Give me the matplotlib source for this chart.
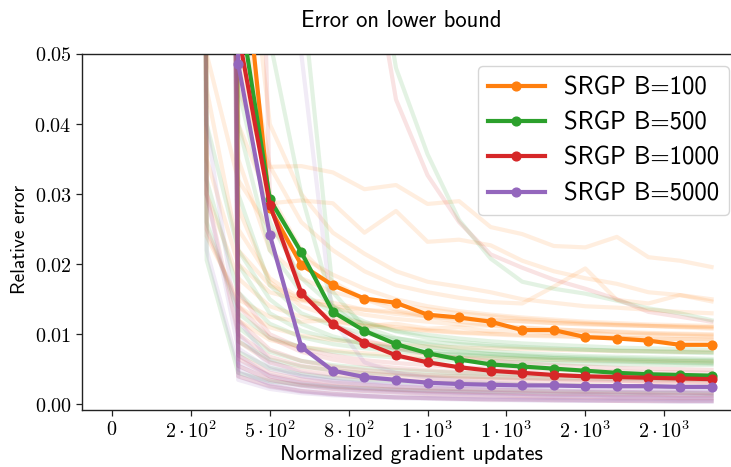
import matplotlib
matplotlib.use("Agg")
import matplotlib.pyplot as plt

plt.rcParams["mathtext.fontset"] = "cm"
plt.rcParams["axes.unicode_minus"] = False
SANS = ["cmss10", "DejaVu Sans"]

# ---------------------------------------------------------------- data
steps = [300, 400, 500, 600, 700, 800, 900, 1000, 1100, 1200,
         1300, 1400, 1500, 1600, 1700, 1800, 1900]

labels = ["SRGP B=100", "SRGP B=500", "SRGP B=1000", "SRGP B=5000"]
colors = ["#ff7f0e", "#2ca02c", "#d62728", "#9467bd"]

err_b100 = [0.60, 0.0720, 0.0280, 0.0199, 0.0170, 0.0151, 0.0145, 0.0128,
            0.0124, 0.0118, 0.0106, 0.0106, 0.0096, 0.0094, 0.0091, 0.0085, 0.0085]
err_b500 = [0.60, 0.0580, 0.0293, 0.0217, 0.0132, 0.0105, 0.0086, 0.0073,
            0.0064, 0.0057, 0.0054, 0.0051, 0.0048, 0.0045, 0.0043, 0.0042, 0.0041]
err_b1000 = [0.60, 0.0530, 0.0285, 0.0159, 0.0114, 0.0088, 0.0070, 0.0060,
             0.0053, 0.0048, 0.0045, 0.0042, 0.0040, 0.0039, 0.0038, 0.0037, 0.0036]
err_b5000 = [0.60, 0.0486, 0.0242, 0.0082, 0.0048, 0.0039, 0.0035, 0.0031,
             0.0029, 0.0028, 0.0027, 0.0027, 0.0026, 0.0026, 0.0026, 0.0025, 0.0025]
main_runs = [err_b100, err_b500, err_b1000, err_b5000]

# individual runs drawn faintly behind the summary curves (x = 200 ... 1900)
run_steps = [200] + steps

runs_b100 = [
    [0.9, 0.20, 0.045, 0.0339, 0.0340, 0.0331, 0.0307, 0.0313, 0.0286, 0.0290, 0.0253, 0.0243, 0.0226, 0.0224, 0.0239, 0.0210, 0.0205, 0.0196],
    [0.9, 0.15, 0.040, 0.0287, 0.0291, 0.0287, 0.0245, 0.0276, 0.0232, 0.0235, 0.0227, 0.0205, 0.0190, 0.0180, 0.0172, 0.0160, 0.0156, 0.0150],
    [0.9, 0.80, 0.060, 0.0340, 0.0260, 0.0220, 0.0190, 0.0170, 0.0160, 0.0152, 0.0146, 0.0144, 0.0168, 0.0194, 0.0149, 0.0144, 0.0156, 0.0147],
    [0.9, 0.90, 0.035, 0.0220, 0.0180, 0.0160, 0.0150, 0.0142, 0.0136, 0.0130, 0.0126, 0.0122, 0.0119, 0.0116, 0.0114, 0.0112, 0.0110, 0.0108],
    [0.9, 0.030, 0.018, 0.0140, 0.0125, 0.0118, 0.0112, 0.0108, 0.0105, 0.0102, 0.0100, 0.0098, 0.0097, 0.0096, 0.0095, 0.0094, 0.0093, 0.0092],
    [0.9, 0.70, 0.014, 0.0110, 0.0098, 0.0092, 0.0088, 0.0085, 0.0083, 0.0081, 0.0080, 0.0079, 0.0078, 0.0077, 0.0076, 0.0076, 0.0075, 0.0075],
    [0.9, 0.90, 0.080, 0.0400, 0.0300, 0.0245, 0.0215, 0.0190, 0.0175, 0.0168, 0.0160, 0.0150, 0.0145, 0.0140, 0.0138, 0.0135, 0.0132, 0.0130],
    [0.9, 0.024, 0.015, 0.0125, 0.0118, 0.0120, 0.0112, 0.0115, 0.0108, 0.0110, 0.0104, 0.0106, 0.0101, 0.0103, 0.0099, 0.0100, 0.0098, 0.0097],
    [0.9, 0.80, 0.025, 0.0180, 0.0150, 0.0138, 0.0128, 0.0122, 0.0118, 0.0114, 0.0112, 0.0109, 0.0107, 0.0105, 0.0104, 0.0102, 0.0101, 0.0100],
    [0.9, 0.035, 0.020, 0.0160, 0.0148, 0.0140, 0.0135, 0.0129, 0.0125, 0.0122, 0.0120, 0.0118, 0.0116, 0.0114, 0.0113, 0.0112, 0.0111, 0.0110],
    [0.9, 0.90, 0.028, 0.0175, 0.0140, 0.0125, 0.0116, 0.0110, 0.0106, 0.0103, 0.0101, 0.0099, 0.0098, 0.0096, 0.0095, 0.0094, 0.0093, 0.0093],
    [0.9, 0.60, 0.012, 0.0092, 0.0082, 0.0077, 0.0073, 0.0070, 0.0068, 0.0067, 0.0066, 0.0065, 0.0064, 0.0063, 0.0063, 0.0062, 0.0062, 0.0061],
    [0.9, 0.045, 0.022, 0.0170, 0.0150, 0.0145, 0.0135, 0.0132, 0.0126, 0.0124, 0.0120, 0.0119, 0.0116, 0.0115, 0.0113, 0.0112, 0.0111, 0.0110],
    [0.9, 0.90, 0.050, 0.0300, 0.0220, 0.0175, 0.0150, 0.0135, 0.0125, 0.0118, 0.0113, 0.0110, 0.0107, 0.0105, 0.0103, 0.0101, 0.0100, 0.0099],
    [0.9, 0.050, 0.032, 0.0250, 0.0210, 0.0185, 0.0165, 0.0150, 0.0140, 0.0133, 0.0128, 0.0124, 0.0121, 0.0118, 0.0116, 0.0114, 0.0113, 0.0112],
]
runs_b500 = [
    [0.9, 0.90, 0.60, 0.30, 0.18, 0.110, 0.075, 0.0480, 0.0357, 0.0263, 0.0208, 0.0175, 0.0165, 0.0158, 0.0148, 0.0137, 0.0130, 0.0120],
    [0.9, 0.90, 0.25, 0.052, 0.030, 0.0140, 0.0105, 0.0090, 0.0082, 0.0076, 0.0072, 0.0069, 0.0066, 0.0064, 0.0062, 0.0061, 0.0060, 0.0059],
    [0.9, 0.90, 0.50, 0.150, 0.060, 0.0160, 0.0110, 0.0095, 0.0086, 0.0080, 0.0076, 0.0073, 0.0071, 0.0069, 0.0068, 0.0067, 0.0066, 0.0065],
    [0.9, 0.0206, 0.0045, 0.0033, 0.0028, 0.0025, 0.0023, 0.0021, 0.0020, 0.0019, 0.0018, 0.0018, 0.0017, 0.0017, 0.0016, 0.0016, 0.0016, 0.0015],
    [0.9, 0.70, 0.0110, 0.0075, 0.0062, 0.0056, 0.0052, 0.0049, 0.0047, 0.0045, 0.0044, 0.0043, 0.0042, 0.0041, 0.0041, 0.0040, 0.0040, 0.0039],
    [0.9, 0.80, 0.0200, 0.0130, 0.0105, 0.0093, 0.0086, 0.0081, 0.0077, 0.0074, 0.0072, 0.0070, 0.0068, 0.0067, 0.0066, 0.0065, 0.0064, 0.0063],
    [0.9, 0.032, 0.0160, 0.0115, 0.0096, 0.0086, 0.0080, 0.0076, 0.0073, 0.0071, 0.0069, 0.0067, 0.0066, 0.0065, 0.0064, 0.0063, 0.0062, 0.0062],
    [0.9, 0.60, 0.0075, 0.0052, 0.0043, 0.0038, 0.0035, 0.0033, 0.0031, 0.0030, 0.0029, 0.0028, 0.0027, 0.0027, 0.0026, 0.0026, 0.0025, 0.0025],
    [0.9, 0.90, 0.0400, 0.0220, 0.0160, 0.0130, 0.0115, 0.0105, 0.0099, 0.0094, 0.0090, 0.0087, 0.0085, 0.0083, 0.0081, 0.0080, 0.0079, 0.0078],
    [0.9, 0.50, 0.0090, 0.0064, 0.0054, 0.0049, 0.0045, 0.0043, 0.0041, 0.0040, 0.0039, 0.0038, 0.0037, 0.0037, 0.0036, 0.0036, 0.0035, 0.0035],
    [0.9, 0.026, 0.0130, 0.0095, 0.0082, 0.0075, 0.0070, 0.0067, 0.0064, 0.0062, 0.0061, 0.0060, 0.0059, 0.0058, 0.0057, 0.0057, 0.0056, 0.0056],
    [0.9, 0.90, 0.0300, 0.0170, 0.0130, 0.0112, 0.0101, 0.0094, 0.0089, 0.0086, 0.0083, 0.0081, 0.0079, 0.0078, 0.0077, 0.0076, 0.0075, 0.0074],
    [0.9, 0.90, 0.0450, 0.0260, 0.0180, 0.0140, 0.0118, 0.0104, 0.0095, 0.0089, 0.0085, 0.0082, 0.0080, 0.0078, 0.0076, 0.0075, 0.0074, 0.0073],
    [0.9, 0.040, 0.0220, 0.0150, 0.0115, 0.0097, 0.0086, 0.0079, 0.0074, 0.0070, 0.0067, 0.0065, 0.0063, 0.0062, 0.0061, 0.0060, 0.0059, 0.0058],
]
runs_b1000 = [
    [0.9, 0.80, 0.50, 0.25, 0.15, 0.100, 0.070, 0.0435, 0.0327, 0.0260, 0.0214, 0.0195, 0.0178, 0.0165, 0.0150, 0.0132, 0.0125, 0.0118],
    [0.9, 0.60, 0.0090, 0.0060, 0.0048, 0.0042, 0.0038, 0.0035, 0.0033, 0.0031, 0.0030, 0.0029, 0.0028, 0.0027, 0.0026, 0.0026, 0.0025, 0.0025],
    [0.9, 0.70, 0.0055, 0.0035, 0.0027, 0.0022, 0.0019, 0.0017, 0.0015, 0.0014, 0.0013, 0.0012, 0.0011, 0.0011, 0.0010, 0.0010, 0.0009, 0.0009],
    [0.9, 0.025, 0.0140, 0.0095, 0.0075, 0.0064, 0.0057, 0.0052, 0.0049, 0.0046, 0.0044, 0.0042, 0.0041, 0.0040, 0.0039, 0.0038, 0.0037, 0.0037],
    [0.9, 0.80, 0.200, 0.0300, 0.0160, 0.0115, 0.0092, 0.0080, 0.0072, 0.0066, 0.0062, 0.0059, 0.0056, 0.0054, 0.0052, 0.0051, 0.0050, 0.0049],
    [0.9, 0.50, 0.0070, 0.0045, 0.0036, 0.0031, 0.0028, 0.0025, 0.0023, 0.0022, 0.0021, 0.0020, 0.0019, 0.0018, 0.0018, 0.0017, 0.0017, 0.0016],
    [0.9, 0.60, 0.0040, 0.0026, 0.0019, 0.0015, 0.0012, 0.0010, 0.0009, 0.0008, 0.0007, 0.0007, 0.0006, 0.0006, 0.0005, 0.0005, 0.0005, 0.0005],
    [0.9, 0.90, 0.0120, 0.0078, 0.0062, 0.0054, 0.0049, 0.0045, 0.0042, 0.0040, 0.0038, 0.0037, 0.0036, 0.0035, 0.0034, 0.0033, 0.0033, 0.0032],
    [0.9, 0.030, 0.0100, 0.0068, 0.0055, 0.0048, 0.0044, 0.0041, 0.0039, 0.0037, 0.0036, 0.0035, 0.0034, 0.0033, 0.0033, 0.0032, 0.0032, 0.0031],
    [0.9, 0.70, 0.0065, 0.0040, 0.0031, 0.0026, 0.0023, 0.0021, 0.0019, 0.0018, 0.0017, 0.0016, 0.0015, 0.0015, 0.0014, 0.0014, 0.0013, 0.0013],
    [0.9, 0.80, 0.0160, 0.0100, 0.0080, 0.0070, 0.0063, 0.0059, 0.0056, 0.0053, 0.0051, 0.0050, 0.0049, 0.0048, 0.0047, 0.0046, 0.0046, 0.0045],
]
runs_b5000 = [
    [0.9, 0.60, 0.0045, 0.0030, 0.0024, 0.0020, 0.0017, 0.0015, 0.0013, 0.0012, 0.0011, 0.0010, 0.0009, 0.0009, 0.0008, 0.0008, 0.0007, 0.0007],
    [0.9, 0.50, 0.0060, 0.0042, 0.0033, 0.0028, 0.0024, 0.0021, 0.0019, 0.0017, 0.0016, 0.0015, 0.0014, 0.0013, 0.0012, 0.0012, 0.0011, 0.0011],
    [0.9, 0.030, 0.0080, 0.0050, 0.0040, 0.0034, 0.0030, 0.0027, 0.0025, 0.0023, 0.0022, 0.0021, 0.0020, 0.0019, 0.0018, 0.0018, 0.0017, 0.0017],
    [0.9, 0.70, 0.0035, 0.0022, 0.0016, 0.0013, 0.0011, 0.0009, 0.0008, 0.0007, 0.0006, 0.0006, 0.0005, 0.0005, 0.0005, 0.0004, 0.0004, 0.0004],
    [0.9, 0.80, 0.0120, 0.0062, 0.0045, 0.0038, 0.0033, 0.0030, 0.0028, 0.0026, 0.0025, 0.0024, 0.0023, 0.0022, 0.0021, 0.0021, 0.0020, 0.0020],
    [0.9, 0.90, 0.300, 0.1200, 0.0500, 0.0120, 0.0060, 0.0045, 0.0038, 0.0034, 0.0031, 0.0029, 0.0027, 0.0026, 0.0025, 0.0024, 0.0023, 0.0022],
    [0.9, 0.60, 0.0050, 0.0028, 0.0019, 0.0015, 0.0012, 0.0010, 0.0009, 0.0008, 0.0008, 0.0007, 0.0007, 0.0006, 0.0006, 0.0006, 0.0005, 0.0005],
    [0.9, 0.040, 0.0100, 0.0055, 0.0040, 0.0033, 0.0029, 0.0026, 0.0024, 0.0022, 0.0021, 0.0020, 0.0019, 0.0018, 0.0018, 0.0017, 0.0017, 0.0016],
    [0.9, 0.50, 0.0040, 0.0025, 0.0018, 0.0014, 0.0012, 0.0010, 0.0009, 0.0008, 0.0007, 0.0006, 0.0006, 0.0005, 0.0005, 0.0005, 0.0004, 0.0004],
    [0.9, 0.90, 0.0070, 0.0040, 0.0030, 0.0025, 0.0022, 0.0020, 0.0018, 0.0017, 0.0016, 0.0015, 0.0014, 0.0014, 0.0013, 0.0013, 0.0012, 0.0012],
    [0.9, 0.022, 0.0055, 0.0035, 0.0027, 0.0023, 0.0020, 0.0018, 0.0016, 0.0015, 0.0014, 0.0013, 0.0012, 0.0012, 0.0011, 0.0011, 0.0010, 0.0010],
]
faint_runs = [runs_b100, runs_b500, runs_b1000, runs_b5000]

x_ticks = [0, 250, 500, 750, 1000, 1250, 1500, 1750]
x_tick_labels = [r"$0$", r"$2\cdot10^{2}$", r"$5\cdot10^{2}$", r"$8\cdot10^{2}$",
                 r"$1\cdot10^{3}$", r"$1\cdot10^{3}$", r"$2\cdot10^{3}$", r"$2\cdot10^{3}$"]
y_ticks = [0.00, 0.01, 0.02, 0.03, 0.04, 0.05]
y_tick_labels = [r"$0.00$", r"$0.01$", r"$0.02$", r"$0.03$", r"$0.04$", r"$0.05$"]

# ---------------------------------------------------------------- figure
fig = plt.figure(figsize=(7.31, 4.67), dpi=100)
ax = fig.add_axes([0.1122, 0.1221, 0.9022, 0.7623])

for color, group in zip(colors, faint_runs):
    for run in group:
        ax.plot(run_steps, run, color=color, lw=3.0, alpha=0.13, zorder=1)

for color, label, vals in zip(colors, labels, main_runs):
    ax.plot(steps, vals, color=color, lw=3.0, marker="o", markersize=6.3,
            label=label, zorder=3)

ax.set_xlim(-95, 1995)
ax.set_ylim(-0.0008, 0.05)
ax.set_xticks(x_ticks, labels=x_tick_labels)
ax.set_yticks(y_ticks, labels=y_tick_labels)
ax.tick_params(axis="both", labelsize=14.5, length=4, width=0.9, color="#222222")
for side in ("left", "bottom", "top"):
    ax.spines[side].set_color("#222222")
    ax.spines[side].set_linewidth(1.0)

ax.set_title("Error on lower bound", family=SANS, fontsize=16.3,
             x=0.4837, y=1.076, pad=0)
ax.set_xlabel("Normalized gradient updates", family=SANS, fontsize=15.8)
ax.xaxis.set_label_coords(0.5, -0.097)
ax.set_ylabel("Relative error", family=SANS, fontsize=14)
ax.yaxis.set_label_coords(-0.080, 0.48)

ax.legend(loc="upper right", prop={"family": SANS, "size": 17.8},
          handlelength=2.3, handletextpad=0.78)

fig.savefig("out.png", dpi=100)
